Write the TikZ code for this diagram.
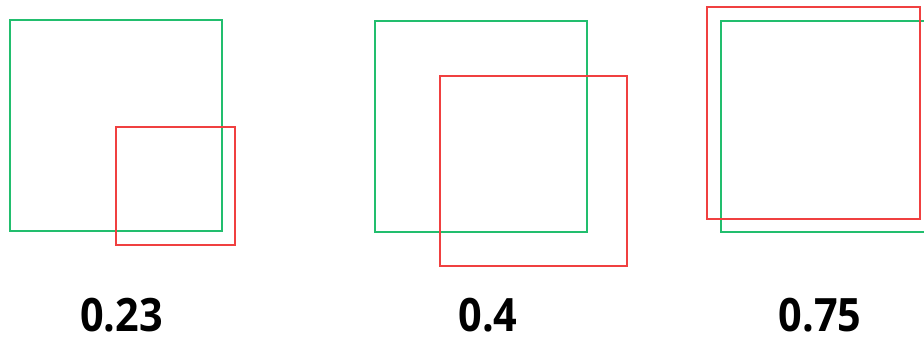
\documentclass[tikz,border=0pt]{standalone}
\usepackage{fontspec}
\setmainfont{Open Sans}
\definecolor{boxgreen}{RGB}{34,190,110}
\definecolor{boxred}{RGB}{240,64,64}
\tikzset{
  gbox/.style={draw=boxgreen, line width=2pt},
  rbox/.style={draw=boxred, line width=2pt},
  lbl/.style={anchor=base, font=\bfseries\fontsize{46}{50}\selectfont, inner sep=0pt, xscale=0.9}
}
\begin{document}
\begin{tikzpicture}[x=1pt,y=-1pt]
\useasboundingbox (0,0) rectangle (924,339);
\begin{scope}
\clip (0,0) rectangle (924,339);
% panel 1
\draw[gbox] (9.5,20) rectangle (221.5,231.5);
\draw[rbox] (116,127) rectangle (235,245);
% panel 2
\draw[gbox] (375,21.5) rectangle (587,232.5);
\draw[rbox] (440,76.5) rectangle (626.5,266.5);
% panel 3
\draw[gbox] (720.5,21.5) rectangle (932,232.5);
\draw[rbox] (707,7) rectangle (919.5,219.5);
\end{scope}
\node[lbl] (l1) at (121.5,331.5) {0.23};
\node[lbl] (l2) at (488,331.5) {0.4};
\node[lbl] (l3) at (820,331.5) {0.75};
\end{tikzpicture}
\end{document}
